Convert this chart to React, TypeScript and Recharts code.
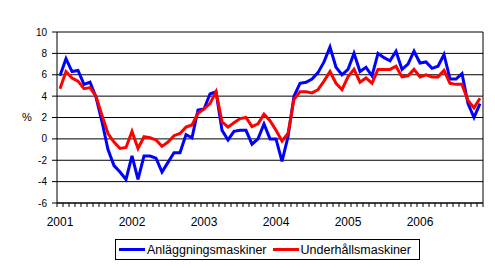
import { LineChart, Line, XAxis, YAxis, CartesianGrid, ReferenceLine } from "recharts"

// Jan 2001 - Nov 2006, monthly, % change
const years = ["2001", "2002", "2003", "2004", "2005", "2006"]

const anlaggningsmaskiner = [
  5.9, 7.5, 6.3, 6.4, 5.1, 5.3, 3.9, 1.6, -1.0, -2.5, -3.1, -3.8,
  -1.6, -3.8, -1.6, -1.6, -1.8, -3.1, -2.2, -1.3, -1.3, 0.4, 0.1, 2.7,
  2.8, 4.2, 4.4, 0.8, -0.1, 0.7, 0.8, 0.8, -0.5, 0.0, 1.4, 0.0,
  0.0, -2.1, 0.2, 4.0, 5.2, 5.3, 5.6, 6.2, 7.2, 8.6, 6.7, 6.0,
  6.5, 8.0, 6.3, 6.7, 5.9, 8.0, 7.6, 7.3, 8.2, 6.5, 7.0, 8.2,
  7.1, 7.2, 6.6, 6.8, 7.9, 5.6, 5.6, 6.1, 3.3, 2.0, 3.3,
]

const underhallsmaskiner = [
  4.7, 6.3, 5.7, 5.4, 4.7, 4.8, 4.0, 2.2, 0.5, -0.3, -0.9, -0.8,
  0.7, -0.9, 0.2, 0.1, -0.1, -0.7, -0.3, 0.3, 0.5, 1.1, 1.3, 2.4,
  2.8, 3.3, 4.4, 1.6, 1.1, 1.5, 1.9, 2.0, 1.15, 1.4, 2.3, 1.7,
  0.8, -0.2, 0.5, 3.7, 4.4, 4.4, 4.3, 4.6, 5.4, 6.3, 5.2, 4.6,
  5.8, 6.5, 5.3, 5.7, 5.2, 6.5, 6.5, 6.5, 6.8, 5.8, 5.9, 6.5,
  5.8, 6.0, 5.8, 5.8, 6.4, 5.2, 5.1, 5.1, 3.6, 2.9, 3.8,
]

const yTicks = [-6, -4, -2, 0, 2, 4, 6, 8, 10]

const series = [
  { key: "a", name: "Anläggningsmaskiner", color: "#0000FF" },
  { key: "u", name: "Underhållsmaskiner", color: "#FF0000" },
]

const nMonths = anlaggningsmaskiner.length
// each month sits in the middle of its category slot
const data = anlaggningsmaskiner.map((v, i) => ({
  pos: i + 0.5,
  a: v,
  u: underhallsmaskiner[i],
}))

const tickMarks = Array.from({ length: nMonths + 1 }, (_, i) => i)
const yearTicks = years.map((_, i) => i * 12 + 0.5)

const font = "'Liberation Sans', Arial, sans-serif"

export default function App() {
  return (
    <div style={{ position: "absolute", left: 0, top: 0, width: 495, height: 268, background: "#fff", fontFamily: font }}>
      <LineChart
        width={495}
        height={268}
        data={data}
        margin={{ top: 32, right: 12, left: 17, bottom: 31 }}
        style={{ fontFamily: font }}
      >
        <CartesianGrid vertical={false} stroke="#000" strokeWidth={1} />
        <XAxis
          dataKey="pos"
          type="number"
          domain={[0, nMonths]}
          ticks={tickMarks}
          interval={0}
          tickFormatter={() => ""}
          tickSize={4}
          height={4}
          stroke="#000"
          axisLine={{ stroke: "#000" }}
          tickLine={{ stroke: "#000" }}
        />
        <XAxis
          xAxisId="year"
          dataKey="pos"
          type="number"
          domain={[0, nMonths]}
          ticks={yearTicks}
          interval={0}
          tickFormatter={(v) => years[Math.floor(v / 12)]}
          axisLine={false}
          tickLine={false}
          tickSize={0}
          tickMargin={10}
          height={30}
          tick={{ fill: "#000", fontSize: 12 }}
        />
        <YAxis
          type="number"
          domain={[-6, 10]}
          ticks={yTicks}
          interval={0}
          width={40}
          tickSize={5}
          tickMargin={5}
          axisLine={{ stroke: "#000" }}
          tickLine={{ stroke: "#000" }}
          tick={{ fill: "#000", fontSize: 10 }}
          label={{ value: "%", position: "insideLeft", offset: 5, fill: "#000", fontSize: 11 }}
        />
        <ReferenceLine x={nMonths} stroke="#000" />
        {series.map((s) => (
          <Line
            key={s.key}
            type="linear"
            dataKey={s.key}
            name={s.name}
            stroke={s.color}
            strokeWidth={3}
            dot={false}
            activeDot={false}
            isAnimationActive={false}
          />
        ))}
      </LineChart>

      <div
        style={{
          position: "absolute",
          left: 115,
          top: 239,
          width: 305,
          height: 21,
          border: "1px solid #000",
          boxSizing: "border-box",
          display: "flex",
          alignItems: "center",
          paddingLeft: 3,
          fontSize: 12.5,
          color: "#000",
          whiteSpace: "nowrap",
        }}
      >
        {series.map((s, i) => (
          <div key={s.key} style={{ display: "flex", alignItems: "center", marginLeft: i === 0 ? 0 : 6 }}>
            <div style={{ width: 26, height: 3, background: s.color }} />
            <span style={{ marginLeft: 2 }}>{s.name}</span>
          </div>
        ))}
      </div>
    </div>
  )
}
